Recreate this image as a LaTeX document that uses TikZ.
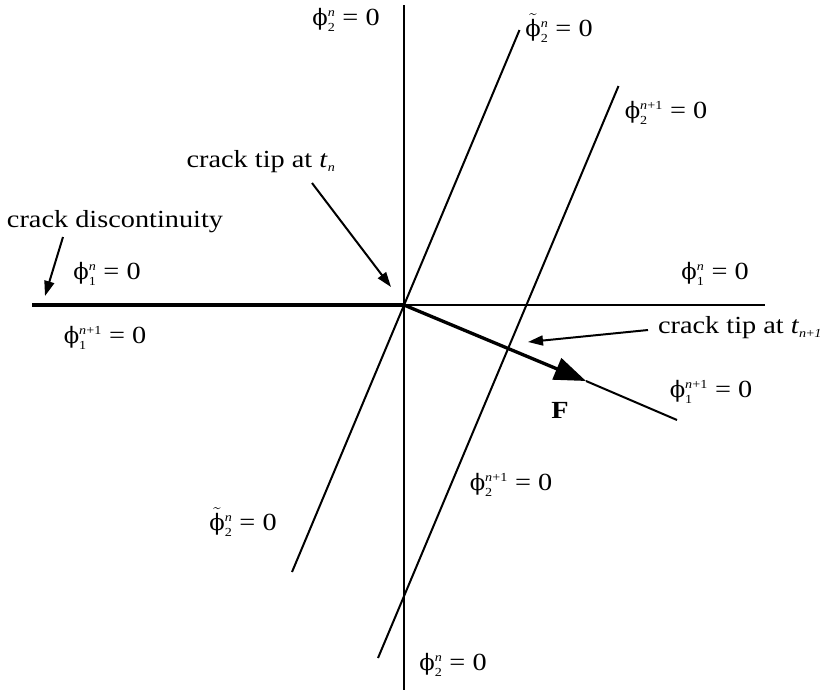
\documentclass[tikz,border=0pt]{standalone}
\usepackage{amsmath}
\usepackage{fontspec}
\setmainfont{Liberation Serif}[FakeStretch=1.15]
\newfontfamily\phifont{DejaVu Serif}[Scale=0.92]
\usetikzlibrary{arrows.meta}

% level set label: symbol, superscript, subscript
\newcommand{\lvl}[3]{#1$^{\scriptscriptstyle\text{#2}}_{\scriptscriptstyle\text{#3}}$ = 0}
\newcommand{\phis}{{\phifont ϕ}}
\newcommand{\phitl}{$\tilde{\text{\phis}}$}

\begin{document}
\begin{tikzpicture}[x=0.3mm, y=-0.3mm,
    lbl/.style={inner sep=0pt, font=\fontsize{21}{24}\selectfont},
    thinline/.style={line width=0.6mm},
    ptr/.style={line width=0.6mm, -{Triangle[length=4.5mm, width=3mm]}}]
  \useasboundingbox (0,0) rectangle (824,690);

  % Points
  \coordinate (O) at (404,305);
  \coordinate (tipB) at (508,349);
  \coordinate (vtop) at (404,5);
  \coordinate (vbot) at (404,690);
  \coordinate (hleft) at (32,305);
  \coordinate (hright) at (765,305);
  \coordinate (ptop) at (519.5,30);
  \coordinate (pbot) at (292,572);
  \coordinate (qtop) at (618.5,86);
  \coordinate (qbot) at (378,658);
  \coordinate (Fhead) at (586,381);
  \coordinate (Fend) at (677,420);

  % Level set lines
  \draw[thinline] (vtop) -- (vbot);
  \draw[thinline] (O) -- (hright);
  \draw[line width=1.3mm] (hleft) -- (O);
  \draw[thinline] (pbot) -- (ptop);
  \draw[thinline] (qbot) -- (qtop);
  \draw[thinline] (Fhead) -- (Fend);

  % Crack growth direction
  \draw[line width=1mm, -{Triangle[length=9.5mm, width=6.8mm]}] (O) -- (Fhead);
  \node (F) at (560,410) [lbl, font=\fontsize{21}{24}\selectfont\bfseries] {F};

  % Labels
  \node (disc) at (115,222) [lbl] {crack discontinuity};
  \node (tipn) at (261,162) [lbl] {crack tip at \textit{t}$_{\scriptscriptstyle\text{\textit{n}}}$};
  \node (tipn1) at (740,328) [lbl] {crack tip at \textit{t}$_{\scriptscriptstyle\text{\textit{n}+\textit{1}}}$};

  \node (p2top) at (346,20) [lbl] {\lvl{\phis}{\textit{n}}{2}};
  \node (p2bot) at (453,665) [lbl] {\lvl{\phis}{\textit{n}}{2}};
  \node (pt2top) at (559,28) [lbl] {\lvl{\phitl}{\textit{n}}{2}};
  \node (pt2bot) at (243,522) [lbl] {\lvl{\phitl}{\textit{n}}{2}};
  \node (q2top) at (666,113) [lbl] {\lvl{\phis}{\textit{n}+1}{2}};
  \node (q2bot) at (511,485) [lbl] {\lvl{\phis}{\textit{n}+1}{2}};
  \node (p1left) at (107,274) [lbl] {\lvl{\phis}{\textit{n}}{1}};
  \node (p1right) at (715,274) [lbl] {\lvl{\phis}{\textit{n}}{1}};
  \node (q1left) at (105,338) [lbl] {\lvl{\phis}{\textit{n}+1}{1}};
  \node (q1right) at (711,392) [lbl] {\lvl{\phis}{\textit{n}+1}{1}};

  % Pointers
  \coordinate (discA) at (63,237);
  \coordinate (discB) at (45,296);
  \coordinate (tipnA) at (312,183);
  \coordinate (tipnB) at (391,287);
  \coordinate (tipn1A) at (648,330);
  \coordinate (tipn1B) at (528,342);
  \draw[ptr] (discA) -- (discB);
  \draw[ptr] (tipnA) -- (tipnB);
  \draw[ptr] (tipn1A) -- (tipn1B);
\end{tikzpicture}
\end{document}
